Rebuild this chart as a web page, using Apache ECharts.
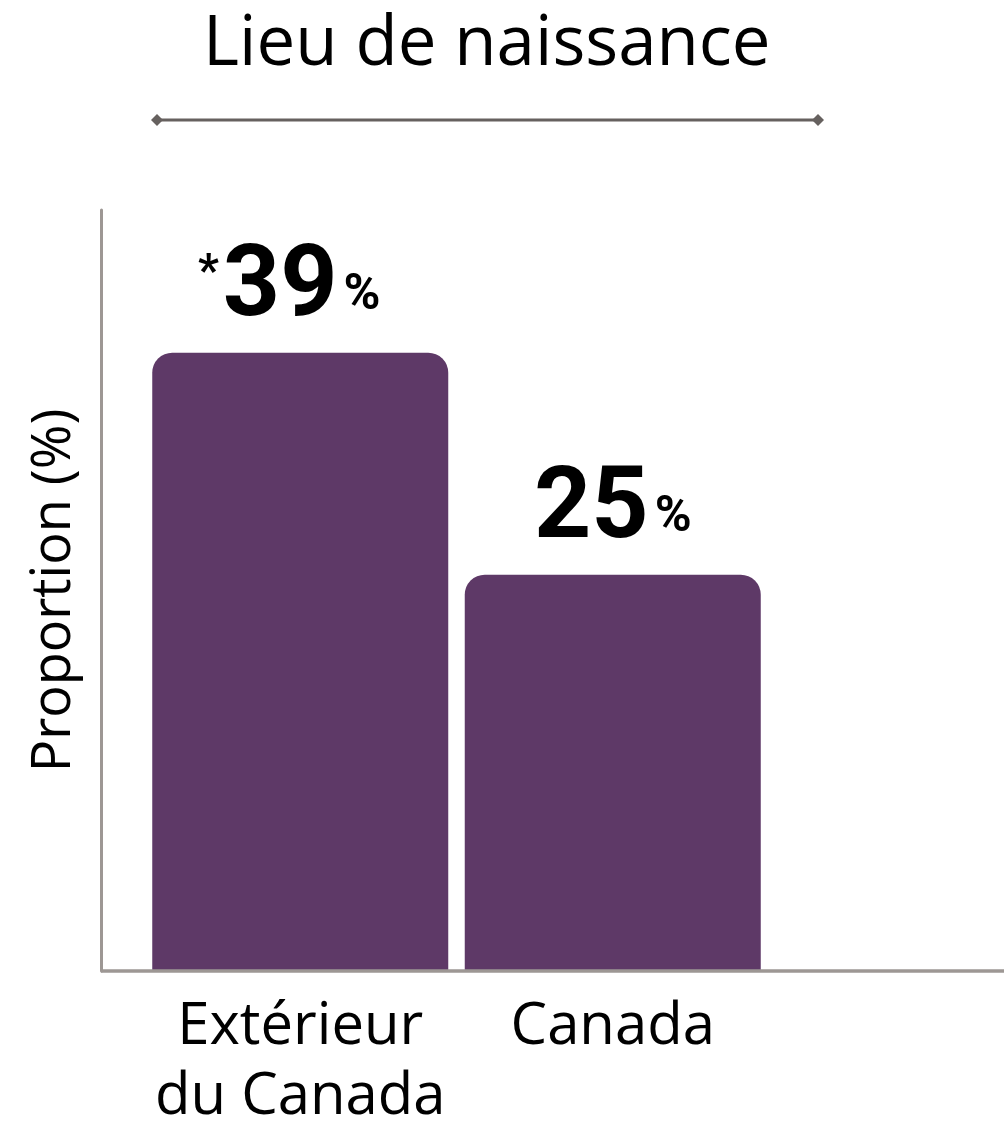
<!DOCTYPE html>
<html>
<head>
<meta charset="utf-8">
<script src="https://cdn.jsdelivr.net/npm/echarts@6/dist/echarts.min.js"></script>
<style>
html,body{margin:0;padding:0;background:#fff;}
#c{width:1004px;height:1125px;}
</style>
</head>
<body>
<div id="c"></div>
<script>
const categories = ['Extérieur\ndu Canada', 'Canada'];
const values = [39, 25];
const flags = ['*', ''];
const titleText = 'Lieu de naissance';
const yAxisName = 'Proportion (%)';

const chart = echarts.init(document.getElementById('c'), null, {renderer: 'canvas'});
const axisColor = '#9d9794';
const barColor = '#5e3967';

const seriesData = values.map(function (v, i) {
  return flags[i] ? {value: v, label: {offset: [-11, 0]}} : {value: v};
});

chart.setOption({
  animation: false,
  backgroundColor: '#fff',
  title: {
    text: titleText,
    left: 198,
    top: 6,
    textStyle: {fontFamily: 'Open Sans', fontSize: 69, fontWeight: 'normal', color: '#000'}
  },
  grid: {left: 144, right: 235, top: 210, bottom: 154, containLabel: false, outerBoundsMode: 'none'},
  xAxis: {
    type: 'category',
    data: categories,
    axisLine: {show: false},
    axisTick: {show: false},
    axisLabel: {
      fontFamily: 'Open Sans', fontSize: 58, color: '#000', lineHeight: 70, margin: 21, interval: 0
    }
  },
  yAxis: {
    type: 'value',
    min: 0,
    max: 48,
    offset: 43,
    splitLine: {show: false},
    axisTick: {show: false},
    axisLabel: {show: false},
    axisLine: {show: true, lineStyle: {color: axisColor, width: 3}},
    name: yAxisName,
    nameLocation: 'middle',
    nameGap: 19,
    nameTextStyle: {fontFamily: 'Open Sans', fontSize: 54, color: '#000'}
  },
  series: [{
    type: 'bar',
    data: seriesData,
    barWidth: 296,
    itemStyle: {color: barColor, borderRadius: [20, 20, 0, 0]},
    label: {
      show: true,
      position: 'top',
      distance: 23,
      formatter: function (p) {
        const f = flags[p.dataIndex];
        return (f ? '{ast|' + f + '}' : '') + '{num|' + p.value + '}{pct|%}';
      },
      rich: {
        ast: {fontFamily: 'Roboto', fontWeight: 'bold', fontSize: 46, color: '#000', verticalAlign: 'top', lineHeight: 80, padding: [2, 4, 40, 0]},
        num: {fontFamily: 'Roboto', fontWeight: 'bold', fontSize: 100, color: '#000', lineHeight: 80},
        pct: {fontFamily: 'Roboto', fontWeight: 'bold', fontSize: 50, color: '#000', lineHeight: 80, padding: [14, 0, 0, 6]}
      }
    }
  }],
  graphic: [
    {type: 'line', shape: {x1: 101, y1: 971, x2: 1004, y2: 971}, style: {stroke: axisColor, lineWidth: 3.5}, z: 10},
    {type: 'line', shape: {x1: 156, y1: 120, x2: 820, y2: 120}, style: {stroke: '#66615f', lineWidth: 3}},
    {type: 'polygon', shape: {points: [[151, 120], [157, 114], [163, 120], [157, 126]]}, style: {fill: '#66615f'}},
    {type: 'polygon', shape: {points: [[812, 120], [818, 114], [824, 120], [818, 126]]}, style: {fill: '#66615f'}}
  ]
});
</script>
</body>
</html>
